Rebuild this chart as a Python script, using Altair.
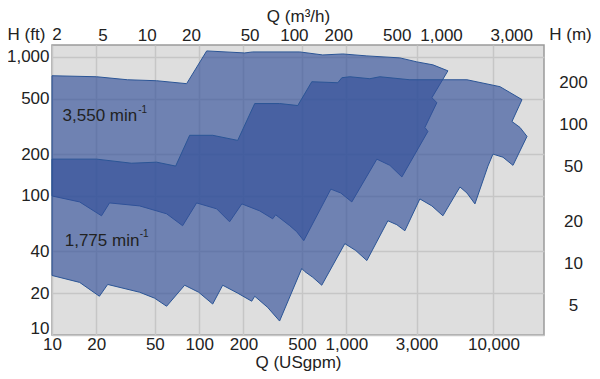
import altair as alt
import pandas as pd

# ---------------- data ----------------
# 3,550 min-1 envelope (Q in USgpm, H in ft), traced clockwise
q3550 = [10, 20.1, 32.6, 51.4, 82.2, 112.5, 204, 231, 483, 692, 947, 1379, 2312, 3017, 3876, 4903,
         3815, 4126, 3420, 3584, 2386, 1977, 1613, 1090, 917, 785, 514, 460, 413, 331, 316, 258, 195,
         161, 131.5, 96.1, 77.2, 60.1, 39.4, 24.6, 21.7, 15.4, 10]
h3550 = [732, 720, 685, 674, 642, 1104, 1068, 1086, 1086, 1033, 1050, 1017, 984, 921, 877, 794,
         509, 469, 311, 291, 137, 166, 184, 90.6, 105, 112, 47.7, 55.3, 61.1, 73.2, 68.5, 78.1, 87.7,
         65.2, 80.8, 89.1, 61.1, 74.4, 84.8, 89.1, 72.0, 90.6, 100]

# 1,775 min-1 envelope
q1775 = [10, 20.1, 34.7, 51.4, 69.2, 86.2, 123.6, 182.8, 238.6, 352.3, 467.9, 582.6, 875.6, 932, 1056,
         1445, 1690, 2704, 4534, 6603, 11070, 15630,
         13360, 15150, 16900, 13570, 11600, 9922, 9175, 7483, 6603, 5918, 4534, 3815, 3162, 2500, 2205,
         1916, 1379, 1160, 977, 681, 592, 522, 498, 352, 292, 238.6, 227.6, 182.8, 144.5, 123.6, 99.2,
         79.7, 60.1, 49.8, 39.4, 23.9, 21.0, 15.4, 10]
h1775 = [184, 184, 172, 175, 164, 273, 273, 251, 462, 462, 447, 663, 652, 708, 720,
         697, 720, 685, 685, 685, 611, 493,
         343, 311, 268, 166, 190, 200, 164, 87.7, 105, 116, 72.0, 84.8, 95.2, 56.2, 62.1,
         66.3, 34.3, 40.5, 45.4, 22.8, 26.0, 28.6, 30.1, 12.6, 15.8, 19.0, 17.5, 20.0, 22.8, 16.7, 20.3,
         22.8, 16.1, 18.4, 20.3, 23.1, 19.0, 23.9, 26.8]

# annotations
label_text = ["3,550 min", "1,775 min"]
label_q = [11.8, 12.2]
label_h = [373, 47.7]
sup_text = ["-1", "-1"]
sup_q = [38.5, 39.4]
sup_h = [418, 53.5]

# axis ticks
gpm_ticks = [10, 20, 50, 100, 200, 500, 1000, 3000, 10000]
ft_ticks = [10, 20, 40, 100, 200, 500, 1000]
m3h_ticks = [5, 10, 20, 50, 100, 200, 500, 1000, 3000]
m_ticks = [5, 10, 20, 50, 100, 200]

GPM_DOMAIN = [10, 22050]
FT_DOMAIN = [10, 1218]
M3H_DOMAIN = [GPM_DOMAIN[0] * 0.22712, GPM_DOMAIN[1] * 0.22712]
M_DOMAIN = [FT_DOMAIN[0] * 0.3048, FT_DOMAIN[1] * 0.3048]

# ---------------- build ----------------
FONT = "Liberation Sans"
TXT = "#222222"
FILL = "#32509a"
STROKE = "#2b5596"
FS = 17
HEAD_Y = -10.5  # row of top labels relative to plot top

xscale = alt.Scale(type="log", domain=GPM_DOMAIN, nice=False)
yscale = alt.Scale(type="log", domain=FT_DOMAIN, nice=False)


def poly_df(q, h):
    qs = q + [q[0]]
    hs = h + [h[0]]
    return pd.DataFrame({"Q": qs, "H": hs, "i": list(range(len(qs)))})


x_axis = alt.Axis(values=gpm_ticks, format=",", grid=True, ticks=False, domain=False,
                  labelFontSize=FS, labelPadding=1, labelFlush=False,
                  title="Q (USgpm)", titleFontSize=FS, titleFontWeight="normal",
                  titleY=27.5, titleBaseline="middle")
y_axis = alt.Axis(values=ft_ticks, format=",", grid=True, ticks=False, domain=False,
                  labelFontSize=FS, labelPadding=3, labelFlush=False,
                  labelOffset={"condition": {"test": "datum.value == 10", "value": -7}, "value": 0},
                  title="H (ft)", titleAngle=0, titleFontSize=FS, titleFontWeight="normal",
                  titleX=-26, titleY=HEAD_Y, titleAlign="center", titleBaseline="middle")


def enc_xy():
    return dict(
        x=alt.X("Q:Q", scale=xscale, axis=x_axis),
        y=alt.Y("H:Q", scale=yscale, axis=y_axis),
    )


def poly_layer(q, h):
    return alt.Chart(poly_df(q, h)).mark_line(
        fill=FILL, fillOpacity=0.65, stroke=STROKE, strokeWidth=1, strokeJoin="round"
    ).encode(order="i:Q", **enc_xy())


p35 = poly_layer(q3550, h3550)
p17 = poly_layer(q1775, h1775)

txt = alt.Chart(pd.DataFrame({"Q": label_q, "H": label_h, "t": label_text})).mark_text(
    align="left", baseline="middle", font=FONT, fontSize=FS, color=TXT
).encode(text="t:N", **enc_xy())
sup = alt.Chart(pd.DataFrame({"Q": sup_q, "H": sup_h, "t": sup_text})).mark_text(
    align="left", baseline="middle", font=FONT, fontSize=10, color=TXT
).encode(text="t:N", **enc_xy())
two = alt.Chart(pd.DataFrame({"t": ["2"]})).mark_text(
    align="center", baseline="middle", font=FONT, fontSize=FS, color=TXT
).encode(x=alt.value(5), y=alt.value(HEAD_Y), text="t:N")

inner = alt.layer(p35, p17, txt, sup, two)

sec = alt.Chart(pd.DataFrame({"m3h": M3H_DOMAIN, "m": M_DOMAIN})).mark_point(opacity=0).encode(
    x=alt.X("m3h:Q", scale=alt.Scale(type="log", domain=M3H_DOMAIN, nice=False),
            axis=alt.Axis(orient="top", values=m3h_ticks, format=",", grid=False, ticks=False,
                          domain=False, labelFontSize=FS, labelPadding=1, labelFlush=False,
                          title="Q (m³/h)", titleFontSize=FS, titleFontWeight="normal",
                          titleY=-28.2, titleBaseline="middle")),
    y=alt.Y("m:Q", scale=alt.Scale(type="log", domain=M_DOMAIN, nice=False),
            axis=alt.Axis(orient="right", values=m_ticks, grid=False, ticks=False, domain=False,
                          labelFontSize=FS, labelPadding=29, labelAlign="center", labelFlush=False,
                          title="H (m)", titleAngle=0, titleFontSize=FS, titleFontWeight="normal",
                          titleX=26, titleY=HEAD_Y, titleAlign="center", titleBaseline="middle")),
)

chart = alt.layer(inner, sec).resolve_scale(x="independent", y="independent").properties(
    width=492, height=290,
    padding={"left": 44, "top": 37, "right": 48, "bottom": 36},
    autosize=alt.AutoSizeParams(type="none"),
    background="white",
).configure_view(
    fill="#dedede", stroke="#9b9b9b", strokeWidth=1.5
).configure_axis(
    labelFont=FONT, titleFont=FONT, labelColor=TXT, titleColor=TXT,
    gridColor="#c6c6c6", gridWidth=1.5,
)

chart.save("out.html", embed_options={"renderer": "svg", "actions": False})
